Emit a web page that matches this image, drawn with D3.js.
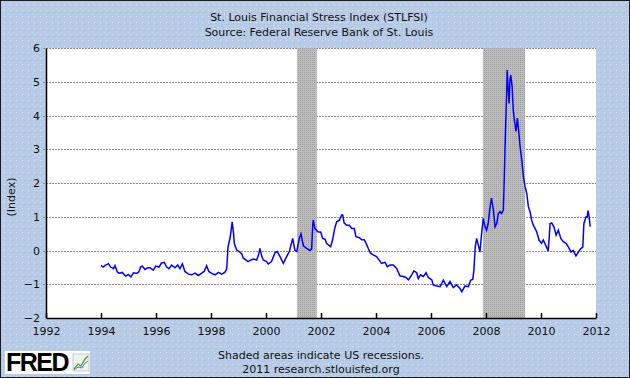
<!DOCTYPE html>
<html>
<head>
<meta charset="utf-8">
<script src="https://cdn.jsdelivr.net/npm/d3@7"></script>
<style>
  body { margin: 0; }
  svg { display: block; font-family: "DejaVu Sans", Verdana, sans-serif; }
</style>
</head>
<body>
<div id="chart"></div>
<script>
// weekly STLFSI (decimal year, index value)
var years = [1994.00,1994.08,1994.15,1994.27,1994.35,1994.45,1994.51,1994.59,1994.65,1994.77,1994.90,1994.99,
  1995.09,1995.18,1995.30,1995.38,1995.44,1995.50,1995.60,1995.70,1995.78,1995.90,1995.99,
  1996.11,1996.20,1996.30,1996.39,1996.47,1996.57,1996.69,1996.79,1996.87,1996.96,
  1997.05,1997.18,1997.30,1997.42,1997.54,1997.66,1997.75,1997.84,1997.92,
  1998.02,1998.15,1998.27,1998.39,1998.50,1998.57,1998.62,1998.70,1998.77,1998.82,1998.85,1998.93,
  1999.05,1999.12,1999.17,1999.35,1999.45,1999.54,1999.66,1999.74,1999.78,1999.84,1999.90,
  2000.02,2000.08,2000.20,2000.33,2000.41,2000.51,2000.63,2000.75,2000.85,2000.97,
  2001.05,2001.12,2001.21,2001.27,2001.36,2001.48,2001.60,2001.66,2001.70,2001.72,2001.78,2001.90,2001.99,
  2002.06,2002.15,2002.20,2002.35,2002.42,2002.50,2002.57,2002.67,2002.75,2002.79,2002.84,2002.93,
  2003.03,2003.12,2003.21,2003.27,2003.40,2003.48,2003.57,2003.64,2003.72,2003.80,2003.90,
  2004.02,2004.10,2004.20,2004.33,2004.41,2004.51,2004.63,2004.75,2004.87,2004.99,
  2005.09,2005.18,2005.30,2005.38,2005.48,2005.54,2005.62,2005.72,2005.82,2005.90,
  2006.03,2006.08,2006.21,2006.33,2006.45,2006.57,2006.69,2006.81,2006.93,
  2007.05,2007.12,2007.24,2007.36,2007.44,2007.52,2007.56,2007.61,2007.66,2007.72,2007.78,2007.84,2007.90,2007.96,
  2008.02,2008.08,2008.15,2008.20,2008.27,2008.33,2008.39,2008.45,2008.51,2008.57,2008.63,2008.66,2008.70,
  2008.75,2008.77,2008.80,2008.84,2008.87,2008.90,2008.95,2008.99,
  2009.04,2009.09,2009.14,2009.19,2009.24,2009.30,2009.36,2009.42,2009.48,2009.54,2009.60,2009.66,2009.72,2009.84,2009.93,
  2010.02,2010.08,2010.17,2010.26,2010.30,2010.33,2010.39,2010.47,2010.55,2010.63,2010.72,2010.81,2010.91,
  2011.00,2011.09,2011.17,2011.27,2011.36,2011.44,2011.52,2011.56,2011.64,2011.68,2011.71,2011.74,2011.79];

var stlfsi = [-0.44,-0.49,-0.44,-0.39,-0.49,-0.54,-0.45,-0.63,-0.67,-0.65,-0.76,-0.71,
  -0.78,-0.66,-0.68,-0.63,-0.49,-0.46,-0.56,-0.51,-0.51,-0.58,-0.46,
  -0.49,-0.37,-0.35,-0.49,-0.54,-0.43,-0.51,-0.43,-0.54,-0.39,
  -0.62,-0.70,-0.72,-0.67,-0.74,-0.67,-0.62,-0.45,-0.62,
  -0.68,-0.72,-0.65,-0.70,-0.65,-0.55,0.10,0.40,0.85,0.50,0.20,0.02,
  -0.05,-0.10,-0.22,-0.33,-0.28,-0.25,-0.28,-0.10,0.06,-0.15,-0.28,
  -0.33,-0.40,-0.33,-0.06,-0.03,-0.18,-0.38,-0.18,-0.03,0.36,
  0.01,-0.03,0.36,0.49,0.14,0.06,0.00,0.05,0.75,0.90,0.65,0.55,0.55,
  0.36,0.33,0.21,0.11,0.31,0.66,0.85,0.90,1.05,1.05,0.82,0.75,
  0.75,0.65,0.65,0.41,0.38,0.32,0.32,0.21,0.06,-0.08,-0.13,
  -0.18,-0.27,-0.38,-0.35,-0.48,-0.43,-0.43,-0.53,-0.75,-0.77,
  -0.80,-0.87,-0.72,-0.60,-0.66,-0.83,-0.72,-0.77,-0.66,-0.80,
  -0.87,-1.02,-1.05,-1.07,-0.88,-1.07,-0.92,-1.10,-1.02,
  -1.12,-1.22,-1.05,-1.07,-0.88,-0.85,-0.58,0.11,0.36,0.16,-0.05,0.50,0.95,0.71,
  0.60,0.80,1.30,1.55,1.20,0.70,0.80,1.10,1.15,1.10,1.20,2.00,3.27,
  4.66,5.35,4.86,4.36,5.05,5.20,4.86,4.17,
  3.82,3.53,3.92,3.53,3.08,2.68,2.19,1.90,1.70,1.30,1.15,0.90,0.75,0.56,0.31,
  0.21,0.31,0.16,-0.01,0.40,0.80,0.82,0.70,0.45,0.60,0.36,0.26,0.21,
  0.10,-0.05,0.00,-0.16,-0.05,0.05,0.10,0.80,1.00,1.00,1.18,1.05,0.71];

var recessions = [[2001.13, 2001.85], [2007.89, 2009.42]];
var xTicks = [1992,1994,1996,1998,2000,2002,2004,2006,2008,2010,2012];
var yTicks = [-2,-1,0,1,2,3,4,5,6];

var W = 630, H = 378;
var margin = {top: 48, right: 34, bottom: 60, left: 46},
    width = W - margin.left - margin.right,
    height = H - margin.top - margin.bottom;

var svg = d3.select("#chart").append("svg")
    .attr("width", W)
    .attr("height", H);

var defs = svg.append("defs");
var bgPat = defs.append("pattern").attr("id", "bg")
    .attr("width", 6).attr("height", 6).attr("patternUnits", "userSpaceOnUse");
bgPat.append("rect").attr("width", 6).attr("height", 6).attr("fill", "#b7cbe6");
bgPat.append("rect").attr("width", 1).attr("height", 1).attr("fill", "#a9c0df");
bgPat.append("rect").attr("x", 2).attr("y", 2).attr("width", 1).attr("height", 1).attr("fill", "#c3d4ea");
bgPat.append("rect").attr("x", 4).attr("y", 4).attr("width", 1).attr("height", 1).attr("fill", "#dbe7f5");

var recPat = defs.append("pattern").attr("id", "rec")
    .attr("width", 2).attr("height", 2).attr("patternUnits", "userSpaceOnUse");
recPat.append("rect").attr("width", 2).attr("height", 2).attr("fill", "#bdbdbd");
recPat.append("rect").attr("width", 1).attr("height", 1).attr("fill", "#9c9c9c");

// background + frame
svg.append("rect").attr("x", 0.5).attr("y", 0.5).attr("width", W - 1).attr("height", H - 1)
    .attr("fill", "url(#bg)").attr("stroke", "#1a1a1a");

var g = svg.append("g").attr("transform", "translate(" + margin.left + "," + margin.top + ")");

var x = d3.scaleLinear().domain([1992, 2012]).range([0, width]);
var y = d3.scaleLinear().domain([-2, 6]).range([height, 0]);

g.append("rect").attr("width", width).attr("height", height).attr("fill", "#fff");

// gridlines
g.selectAll(".grid").data(yTicks.slice(1)).enter().append("line")
    .attr("x1", -3).attr("x2", width)
    .attr("y1", function(d) { return Math.round(y(d)) + 0.5; })
    .attr("y2", function(d) { return Math.round(y(d)) + 0.5; })
    .attr("stroke", "#8a8a8a")
    .attr("stroke-dasharray", "2,1");

// recession bars
g.selectAll(".rec").data(recessions).enter().append("rect")
    .attr("x", function(d) { return x(d[0]); })
    .attr("y", 0)
    .attr("width", function(d) { return x(d[1]) - x(d[0]); })
    .attr("height", height)
    .attr("fill", "url(#rec)");

// series
var pts = years.map(function(d, i) { return [d, stlfsi[i]]; });
g.append("path").datum(pts)
    .attr("fill", "none")
    .attr("stroke", "#0000ff")
    .attr("stroke-width", 1.5)
    .attr("stroke-linejoin", "miter")
    .attr("d", d3.line()
      .x(function(d) { return x(d[0]); })
      .y(function(d) { return y(d[1]); }));

// axes
var xAxis = g.append("g").attr("transform", "translate(0," + height + ")")
    .call(d3.axisBottom(x).tickValues(xTicks).tickFormat(d3.format("d")).tickSizeInner(-5).tickSizeOuter(0).tickPadding(9));
var yAxis = g.append("g")
    .call(d3.axisLeft(y).tickValues(yTicks).tickSize(0).tickPadding(6));
[xAxis, yAxis].forEach(function(a) {
  a.select(".domain").attr("stroke", "#000").attr("stroke-width", 1.5);
  a.selectAll(".tick line").attr("stroke", "#000").attr("stroke-width", 1.5);
  a.selectAll("text").attr("font-size", "11px").attr("fill", "#111")
    .attr("font-family", "'DejaVu Sans', Verdana, sans-serif");
});

svg.append("text")
    .attr("transform", "translate(15," + (margin.top + height / 2 + 14) + ") rotate(-90)")
    .attr("text-anchor", "middle")
    .attr("font-size", "11px")
    .attr("fill", "#111")
    .text("(Index)");

// titles
svg.append("text").attr("x", 319).attr("y", 21).attr("text-anchor", "middle")
    .attr("font-size", "11px").attr("fill", "#111").text("St. Louis Financial Stress Index (STLFSI)");
svg.append("text").attr("x", 319).attr("y", 36).attr("text-anchor", "middle")
    .attr("font-size", "11px").attr("fill", "#111").text("Source: Federal Reserve Bank of St. Louis");

svg.append("text").attr("x", 321).attr("y", 359).attr("text-anchor", "middle")
    .attr("font-size", "11px").attr("fill", "#111").text("Shaded areas indicate US recessions.");
svg.append("text").attr("x", 321).attr("y", 373).attr("text-anchor", "middle")
    .attr("font-size", "11px").attr("fill", "#111").text("2011 research.stlouisfed.org");

// FRED logo
var logo = svg.append("g").attr("transform", "translate(5,351)");
logo.append("rect").attr("width", 85).attr("height", 23).attr("fill", "#fff");
logo.append("text").attr("x", 1).attr("y", 20)
    .attr("font-family", "'Liberation Sans', Arial, sans-serif")
    .attr("font-weight", "bold").attr("font-size", "25px")
    .attr("letter-spacing", "-1.5px")
    .attr("fill", "#000").text("FRED");
var icon = logo.append("g").attr("transform", "translate(68,3)");
icon.append("rect").attr("width", 16).attr("height", 17).attr("fill", "#eef2ee").attr("stroke", "#c8c8c8");
icon.append("path").attr("d", "M1,15 L5,10 L8,12 L12,5 L15,2").attr("fill", "none").attr("stroke", "#5a9a3a").attr("stroke-width", 1.3);
icon.append("path").attr("d", "M1,16 L5,13 L9,14 L12,9 L15,7").attr("fill", "none").attr("stroke", "#5a7ac0").attr("stroke-width", 1);
</script>
</body>
</html>
